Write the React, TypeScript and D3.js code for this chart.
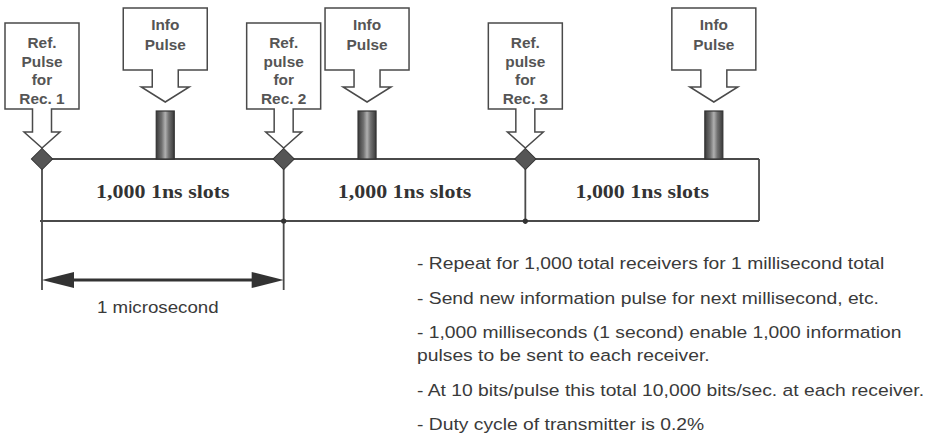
import React from "react";
import * as d3 from "d3";

// ---- data ----
const refTimesNs = [0, 1000, 2000];
const refLabels = [
  ["Ref.", "Pulse", "for", "Rec. 1"],
  ["Ref.", "pulse", "for", "Rec. 2"],
  ["Ref.", "pulse", "for", "Rec. 3"],
];
const infoTimesNs = [510, 1345, 2780];
const infoLabel = ["Info", "Pulse"];
const slotLabels = ["1,000 1ns slots", "1,000 1ns slots", "1,000 1ns slots"];
const frameEndNs = 2967;
const spanStartNs = 0;
const spanEndNs = 1000;
const spanLabel = "1 microsecond";
const notes = [
  ["- Repeat for 1,000 total receivers for 1 millisecond total"],
  ["- Send new information pulse for next millisecond, etc."],
  ["- 1,000 milliseconds (1 second) enable 1,000 information", "pulses to be sent to each receiver."],
  ["- At 10 bits/pulse this total 10,000 bits/sec. at each receiver."],
  ["- Duty cycle of transmitter is 0.2%"],
];

const W = 932;
const H = 435;
const LINE = "#4a4a4a";
const BOXTXT = "#555";
const SANS = "'Liberation Sans', Arial, sans-serif";
const SERIF = "'Liberation Serif', 'Times New Roman', serif";

function SText(props: {
  x: number;
  y: number;
  sx: number;
  anchor?: string;
  family: string;
  size: number;
  weight?: string;
  fill: string;
  children: React.ReactNode;
}) {
  return (
    <text
      transform={`translate(${props.x},${props.y}) scale(${props.sx},1)`}
      textAnchor={props.anchor || "start"}
      fontFamily={props.family}
      fontSize={props.size}
      fontWeight={props.weight || "normal"}
      fill={props.fill}
    >
      {props.children}
    </text>
  );
}

export default function App() {
  const x = d3.scaleLinear().domain([0, 3000]).range([42, 767]);
  const topY = 159;
  const botY = 221;
  const x0 = x(0);
  const xEnd = x(frameEndNs);

  const refBox = { w: 74, top: 23, bottom: 109, shaftHalf: 9.5, headHalf: 18, shaftEnd: 132, tip: 148 };
  const infoBox = { w: 84, top: 8, bottom: 70, shaftHalf: 13, headHalf: 24, shaftEnd: 87, tip: 102 };

  const calloutPath = (cx: number, b: typeof refBox) =>
    [
      `M${cx - b.w / 2},${b.top}`,
      `H${cx + b.w / 2}`,
      `V${b.bottom}`,
      `H${cx + b.shaftHalf}`,
      `V${b.shaftEnd}`,
      `H${cx + b.headHalf}`,
      `L${cx},${b.tip}`,
      `L${cx - b.headHalf},${b.shaftEnd}`,
      `H${cx - b.shaftHalf}`,
      `V${b.bottom}`,
      `H${cx - b.w / 2}`,
      "Z",
    ].join(" ");

  const segBounds = [...refTimesNs, frameEndNs];
  const notesY: number[][] = [];
  let y = 269;
  notes.forEach((n) => {
    const ys: number[] = [];
    n.forEach((_, i) => {
      ys.push(y + i * 23);
    });
    notesY.push(ys);
    y = ys[ys.length - 1] + 34.5;
  });

  const ax1 = x(spanStartNs);
  const ax2 = x(spanEndNs);
  const ay = 280;

  return (
    <svg
      width={W}
      height={H}
      style={{ position: "absolute", left: 0, top: 0, background: "#fff" }}
    >
      <defs>
        <linearGradient id="pulseGrad" x1="0" x2="1" y1="0" y2="0">
          <stop offset="0" stopColor="#3a3a3a" />
          <stop offset="0.3" stopColor="#707070" />
          <stop offset="0.5" stopColor="#b0b0b0" />
          <stop offset="0.7" stopColor="#707070" />
          <stop offset="1" stopColor="#3a3a3a" />
        </linearGradient>
      </defs>

      {/* frame */}
      <line x1={x0} x2={xEnd} y1={topY} y2={topY} stroke={LINE} strokeWidth={1.8} />
      <line x1={x0 - 2} x2={xEnd} y1={botY} y2={botY} stroke={LINE} strokeWidth={1.8} />
      <line x1={xEnd} x2={xEnd} y1={topY} y2={botY} stroke={LINE} strokeWidth={1.8} />
      {refTimesNs.map((t, i) => (
        <line
          key={"v" + i}
          x1={x(t)}
          x2={x(t)}
          y1={topY}
          y2={i < 2 ? 290 : 224}
          stroke={LINE}
          strokeWidth={1.8}
        />
      ))}
      {refTimesNs.slice(1).map((t, i) => (
        <circle key={"d" + i} cx={x(t)} cy={botY} r={2.6} fill="#333" />
      ))}

      {/* slot labels */}
      {slotLabels.map((s, i) => (
        <SText
          key={"s" + i}
          x={(x(segBounds[i]) + x(segBounds[i + 1])) / 2}
          y={198}
          sx={1.22}
          anchor="middle"
          family={SERIF}
          weight="bold"
          size={18}
          fill="#333"
        >
          {s}
        </SText>
      ))}

      {/* ref callouts */}
      {refTimesNs.map((t, i) => {
        const cx = x(t);
        return (
          <g key={"r" + i}>
            <path d={calloutPath(cx, refBox)} fill="#fff" stroke={LINE} strokeWidth={1.5} />
            {refLabels[i].map((l, j) => (
              <SText
                key={j}
                x={cx}
                y={refBox.top + 25 + j * 18.5}
                sx={1.1}
                anchor="middle"
                family={SANS}
                weight="bold"
                size={14}
                fill={BOXTXT}
              >
                {l}
              </SText>
            ))}
            <rect
              x={cx - 7.5}
              y={topY - 7.5}
              width={15}
              height={15}
              transform={`rotate(45 ${cx} ${topY})`}
              fill="#555"
              stroke="#333"
              strokeWidth={1}
            />
          </g>
        );
      })}

      {/* info callouts + pulses */}
      {infoTimesNs.map((t, i) => {
        const cx = x(t);
        return (
          <g key={"i" + i}>
            <path d={calloutPath(cx, infoBox)} fill="#fff" stroke={LINE} strokeWidth={1.5} />
            {infoLabel.map((l, j) => (
              <SText
                key={j}
                x={cx}
                y={infoBox.top + 22 + j * 20}
                sx={1.1}
                anchor="middle"
                family={SANS}
                weight="bold"
                size={14}
                fill={BOXTXT}
              >
                {l}
              </SText>
            ))}
            <rect
              x={cx - 9}
              y={111}
              width={18}
              height={topY - 111}
              fill="url(#pulseGrad)"
              stroke="#333"
              strokeWidth={1.2}
            />
          </g>
        );
      })}

      {/* 1 microsecond span */}
      <line x1={ax1 + 20} x2={ax2 - 20} y1={ay} y2={ay} stroke="#333" strokeWidth={3} />
      <path d={`M${ax1},${ay} L${ax1 + 32},${ay - 8} L${ax1 + 32},${ay + 8} Z`} fill="#333" />
      <path d={`M${ax2},${ay} L${ax2 - 32},${ay - 8} L${ax2 - 32},${ay + 8} Z`} fill="#333" />
      <SText
        x={(ax1 + ax2) / 2 - 5}
        y={313}
        sx={1.17}
        anchor="middle"
        family={SANS}
        size={16}
        fill="#3a3a3a"
      >
        {spanLabel}
      </SText>

      {/* notes */}
      {notes.map((n, i) =>
        n.map((line, j) => (
          <SText
            key={i + "-" + j}
            x={417}
            y={notesY[i][j]}
            sx={1.17}
            family={SANS}
            size={16.5}
            fill="#3a3a3a"
          >
            {line}
          </SText>
        ))
      )}
    </svg>
  );
}
